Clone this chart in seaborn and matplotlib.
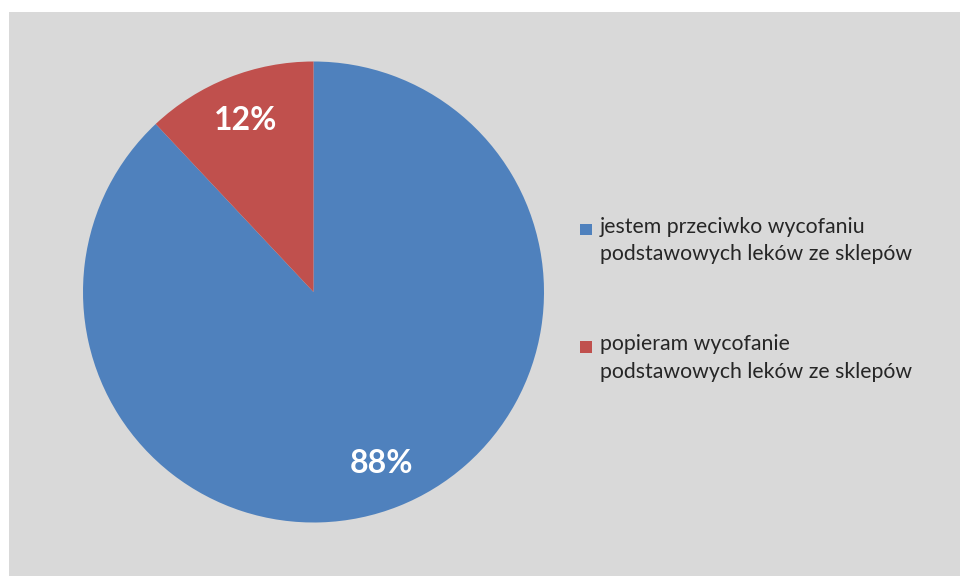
import matplotlib.pyplot as plt
import seaborn as sns
from matplotlib.patches import Rectangle
from matplotlib.legend_handler import HandlerPatch

# dane z wykresu
kategorie = ["jestem przeciwko wycofaniu\npodstawowych leków ze sklepów",
             "popieram wycofanie\npodstawowych leków ze sklepów"]
procenty = [88, 12]
kolory = ["#4F81BD", "#C0504D"]

sns.set_theme(style="white")
plt.rcParams['font.family'] = ['Lato', 'DejaVu Sans']

W, H = 960, 576
fig = plt.figure(figsize=(W / 100, H / 100), dpi=100, facecolor="white")

# szare tło wykresu (jak w Excelu)
fig.add_artist(Rectangle((9 / W, 0), 1 - 9 / W, 1 - 12 / H, transform=fig.transFigure,
                         facecolor="#D9D9D9", edgecolor="none", zorder=-1))

# osie kołowe: środek (313.5, 284) px od dołu, promień 230.5 px
r = 230.5
ax = fig.add_axes([(313.5 - r) / W, (284 - r) / H, 2 * r / W, 2 * r / H])
ax.patch.set_alpha(0)

wedges, _, autotexts = ax.pie(procenty, colors=kolory, startangle=90, counterclock=False,
                              autopct=lambda p: f"{p:.0f}%", pctdistance=0.8,
                              wedgeprops=dict(linewidth=0),
                              textprops=dict(color="white", fontsize=23, fontweight="bold"))
ax.set_xlim(-1, 1)
ax.set_ylim(-1, 1)


def kwadrat(legend, orig_handle, xdescent, ydescent, width, height, fontsize):
    s = width
    return Rectangle((-xdescent, 0.9 * fontsize - s / 2), s, s)


fs = 15.3
leg = fig.legend(wedges, kategorie, loc="upper left", bbox_to_anchor=(580 / W, 1 - 217 / H),
                 frameon=False, fontsize=fs, borderpad=0, borderaxespad=0,
                 handlelength=8.6 / fs, handletextpad=5.5 / fs, labelspacing=3.3,
                 labelcolor="#262626",
                 handler_map={type(wedges[0]): HandlerPatch(patch_func=kwadrat)})
for t in leg.get_texts():
    t.set_linespacing(1.45)

fig.savefig("out.png", dpi=100)
